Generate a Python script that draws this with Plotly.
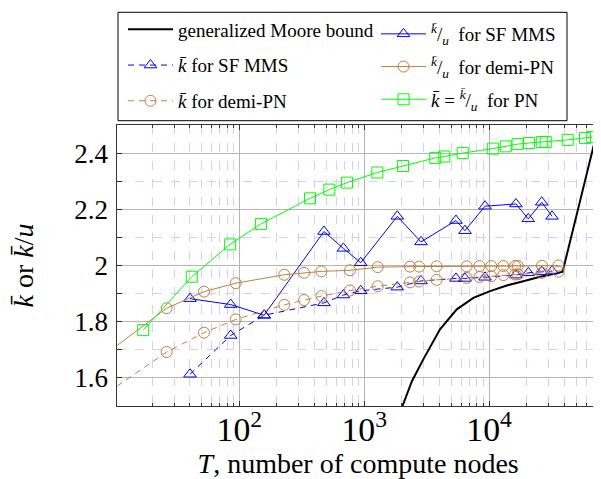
import plotly.graph_objects as go

# ---------------- data ----------------
moore_T = [2025, 2415, 2972, 4046, 5510, 7480, 10190, 13840, 18790, 25590, 34750, 38800, 75500]
moore_k = [1.500, 1.589, 1.666, 1.773, 1.844, 1.885, 1.909, 1.929, 1.944, 1.960, 1.972, 1.978, 2.500]

sf_T = [40.3, 85.3, 158, 476, 681, 938, 1840, 2850, 5430, 6410, 9270, 16400, 20600, 26400, 31900]
sf_ratio = [1.882, 1.861, 1.823, 2.121, 2.061, 2.010, 2.175, 2.084, 2.160, 2.124, 2.211, 2.219, 2.166, 2.225, 2.175]
sf_kbar = [1.613, 1.751, 1.823, 1.867, 1.895, 1.910, 1.923, 1.945, 1.954, 1.954, 1.958, 1.966, 1.974, 1.978, 1.980]

demi_T = [10.5, 26.2, 52.2, 93.6, 229, 330, 454, 769, 1282, 2328, 2756, 3800, 6620, 8370,
          10400, 13000, 16160, 17000, 26500, 35900]
demi_ratio = [1.715, 1.848, 1.907, 1.937, 1.967, 1.974, 1.979, 1.983, 1.994, 1.996, 1.996, 1.997,
              1.997, 1.998, 1.998, 1.998, 1.998, 1.998, 1.999, 2.000]
demi_kbar = [1.571, 1.692, 1.761, 1.808, 1.860, 1.877, 1.891, 1.911, 1.926, 1.940, 1.943, 1.949,
             1.956, 1.959, 1.962, 1.966, 1.968, 1.969, 1.974, 1.978]

pn_T = [17.0, 41.6, 84.4, 149, 368, 526, 728, 1273, 2046, 3707, 4378, 6150, 10700, 13600,
        16900, 20900, 26400, 28400, 42600, 58600, 67000]
pn_k = [1.770, 1.960, 2.075, 2.148, 2.239, 2.270, 2.295, 2.331, 2.354, 2.383, 2.388, 2.400,
        2.416, 2.424, 2.432, 2.436, 2.439, 2.440, 2.447, 2.454, 2.457]

y_ticks = [1.6, 1.8, 2.0, 2.2, 2.4]
y_ticktext = ["1.6", "1.8", "2", "2.2", "2.4"]

# ---------------- styles ----------------
SERIF = "Liberation Serif"
BLUE = "rgb(0,0,255)"
BROWN = "rgb(191,128,64)"
GREEN = "rgb(0,255,0)"
KB = "<i>k̄</i>"
FRAC = "<sup>" + KB + "</sup>/<sub><i>u</i></sub>"

fig = go.Figure()

def add(x, y, name, legend, group, color, dash=None, symbol=None, size=None, width=1):
    mode = "lines+markers" if symbol else "lines"
    kw = dict(marker=dict(symbol=symbol, size=size, color=color, line=dict(width=1))) if symbol else {}
    fig.add_trace(go.Scatter(x=x, y=y, mode=mode, name=name, legend=legend, legendgroup=group,
                             line=dict(color=color, width=width, dash=dash), cliponaxis=bool(not symbol),
                             **kw))

add(moore_T, moore_k, "generalized Moore bound", "legend", "a", "black", width=2)
add(sf_T, sf_ratio, FRAC + "  for SF MMS", "legend2", "d", BLUE, symbol="triangle-up-open", size=11)
add(sf_T, sf_kbar, KB + " for SF MMS", "legend", "b", BLUE, dash="6px,5px", symbol="triangle-up-open", size=11)
add(demi_T, demi_ratio, FRAC + "  for demi-PN", "legend2", "e", BROWN, symbol="circle-open", size=11)
add(demi_T, demi_kbar, KB + " for demi-PN", "legend", "c", BROWN, dash="6px,5px", symbol="circle-open", size=11)
add(pn_T, pn_k, KB + " = " + FRAC + "  for PN", "legend2", "f", GREEN, symbol="square-open", size=11)

# The page places the figure 8 px from the top-left corner (default body margin);
# all pixel positions below are expressed in figure space.
OFF = 8
W, H = 601 - OFF, 479 - OFF
L, R, T, B = 117.3 - OFF, 599.0 - OFF, 125.0 - OFF, 406.0 - OFF

axis_common = dict(
    showline=True, linecolor="#333333", linewidth=1, mirror="allticks",
    ticks="inside", ticklen=5, tickcolor="#333333",
    showgrid=True, gridcolor="#b5b5b5", gridwidth=1,
    tickfont=dict(family=SERIF, size=27, color="black"),
    zeroline=False, automargin=False,
)

legend_common = dict(orientation="v", xanchor="left", yanchor="top", itemwidth=45,
                     bgcolor="rgba(0,0,0,0)", borderwidth=0, traceorder="grouped",
                     font=dict(family=SERIF, size=19, color="black"))

fig.update_layout(
    width=W, height=H, template="none",
    margin=dict(l=0, r=0, t=0, b=0, pad=0),
    paper_bgcolor="white", plot_bgcolor="white",
    font=dict(family=SERIF, color="black"),
    xaxis=dict(type="log", range=[1.023, 4.880], domain=[L / W, R / W],
               dtick=1, exponentformat="power", showexponent="all", ticklabelstandoff=-5,
               minor=dict(dtick="D1", ticks="inside", ticklen=3, tickcolor="#333333",
                          showgrid=True, gridcolor="rgb(208,208,255)", griddash="dash", gridwidth=1),
               title=dict(text="<i>T</i>, number of compute nodes",
                          font=dict(family=SERIF, size=28, color="black"), standoff=15),
               **axis_common),
    yaxis=dict(range=[1.5, 2.5], domain=[(H - B) / H, (H - T) / H],
               tickvals=y_ticks, ticktext=y_ticktext, ticklabelstandoff=3,
               minor=dict(dtick=0.1, tick0=1.5, ticks="inside", ticklen=5, tickcolor="#333333",
                          showgrid=True, gridcolor="rgb(208,208,255)", griddash="dash", gridwidth=1),
               title=dict(text=KB + " or " + KB + "/<i>u</i>",
                          font=dict(family=SERIF, size=28, color="black"), standoff=37),
               **axis_common),
    showlegend=True,
    legend=dict(x=(123 - OFF) / W, y=1 - (10.5 - OFF) / H, tracegroupgap=8, **legend_common),
    legend2=dict(x=(376 - OFF) / W, y=1 - (15 - OFF) / H, tracegroupgap=5, **legend_common),
    shapes=[dict(type="rect", xref="paper", yref="paper", layer="below",
                 x0=(118 - OFF) / W, x1=(567 - OFF) / W,
                 y0=1 - (120.7 - OFF) / H, y1=1 - (12.3 - OFF) / H,
                 line=dict(color="black", width=1), fillcolor="white")],
)

fig.write_html("out.html")
